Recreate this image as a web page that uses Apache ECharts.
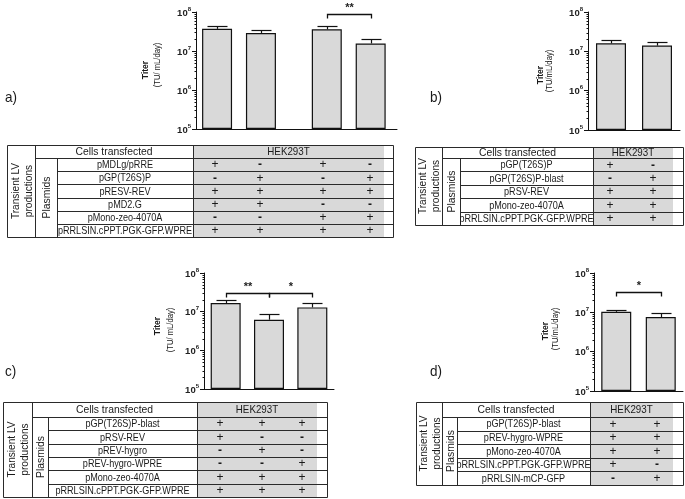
<!DOCTYPE html>
<html><head><meta charset="utf-8">
<script src="https://cdn.jsdelivr.net/npm/echarts@6/dist/echarts.min.js"></script>
<style>html,body{margin:0;padding:0;background:#fff}#c{width:685px;height:499px}</style>
</head><body><div id="c"></div>
<script>
// ---------- DATA ----------
// Panel a
const aCols = ['1', '2', '3', '4'];
const aGroups = [0, 0, 1, 1];            // two pairs of conditions
const aValues = [3.7e7, 2.9e7, 3.6e7, 1.56e7];
const aErr = [0.7e7, 0.5e7, 0.8e7, 0.42e7];
const aSig = [[2, 3, '**', 9e7]];
const aPlasmids = ['pMDLg/pRRE', 'pGP(T26S)P', 'pRESV-REV', 'pMD2.G', 'pMono-zeo-4070A', 'pRRLSIN.cPPT.PGK-GFP.WPRE'];
const aMarks = [['+','-','+','-'], ['-','+','-','+'], ['+','+','+','+'], ['+','+','-','-'], ['-','-','+','+'], ['+','+','+','+']];
// Panel b
const bCols = ['1', '2'];
const bValues = [1.6e7, 1.4e7];
const bErr = [0.3e7, 0.28e7];
const bSig = [];
const bPlasmids = ['pGP(T26S)P', 'pGP(T26S)P-blast', 'pRSV-REV', 'pMono-zeo-4070A', 'pRRLSIN.cPPT.PGK-GFP.WPRE'];
const bMarks = [['+','-'], ['-','+'], ['+','+'], ['+','+'], ['+','+']];
// Panel c
const cCols = ['1', '2', '3'];
const cValues = [1.67e7, 6.2e6, 1.29e7];
const cErr = [0.28e7, 2.5e6, 0.38e7];
const cSig = [[0, 1, '**', 3.1e7], [1, 2, '*', 3.1e7]];
const cPlasmids = ['pGP(T26S)P-blast', 'pRSV-REV', 'pREV-hygro', 'pREV-hygro-WPRE', 'pMono-zeo-4070A', 'pRRLSIN.cPPT.PGK-GFP.WPRE'];
const cMarks = [['+','+','+'], ['+','-','-'], ['-','+','-'], ['-','-','+'], ['+','+','+'], ['+','+','+']];
// Panel d
const dCols = ['1', '2'];
const dValues = [1.03e7, 7.6e6];
const dErr = [0.13e7, 1.8e6];
const dSig = [[0, 1, '*', 3.3e7]];
const dPlasmids = ['pGP(T26S)P-blast', 'pREV-hygro-WPRE', 'pMono-zeo-4070A', 'pRRLSIN.cPPT.PGK-GFP.WPRE', 'pRRLSIN-mCP-GFP'];
const dMarks = [['+','+'], ['+','+'], ['+','+'], ['+','-'], ['-','+']];

// ---------- STYLE / LAYOUT ----------
const FONT = '"Liberation Sans", Arial, sans-serif';
const INK = '#111';
const GRAY = '#d9d9d9';

const chart = echarts.init(document.getElementById('c'), null, {renderer: 'canvas'});

const grids = [
  {left: 196, top: 12, width: 201, height: 117},
  {left: 588, top: 12, width: 92, height: 118},
  {left: 204, top: 273, width: 130, height: 116},
  {left: 594, top: 273, width: 89, height: 118}
];

function yAxis(gi) {
  return {
    type: 'log', logBase: 10, gridIndex: gi, min: 1e5, max: 1e8, startValue: 1e5,
    axisLine: {show: true, onZero: false, lineStyle: {color: INK, width: 1}},
    axisTick: {show: true, length: 4, lineStyle: {color: INK, width: 1}},
    splitLine: {show: false},
    axisLabel: {
      margin: 5,
      formatter: v => '{b|10}{s|' + Math.round(Math.log10(v)) + '}',
      rich: {
        b: {fontSize: 9.5, fontWeight: 'bold', fontFamily: FONT, color: '#222', lineHeight: 12, verticalAlign: 'bottom'},
        s: {fontSize: 6, fontWeight: 'bold', fontFamily: FONT, color: '#222', lineHeight: 6, verticalAlign: 'top'}
      }
    }
  };
}
function xCat(gi, cols) {
  return {type: 'category', gridIndex: gi, data: cols,
    axisLine: {show: true, onZero: false, lineStyle: {color: INK, width: 1}},
    axisTick: {show: false}, axisLabel: {show: false}, splitLine: {show: false}};
}
const aPos = aCols.map((c, i) => i + 0.5 * aGroups[i]);

const xAxes = [
  {type: 'value', gridIndex: 0, min: -0.48, max: 4.1,
    axisLine: {show: true, onZero: false, lineStyle: {color: INK, width: 1}},
    axisTick: {show: false}, axisLabel: {show: false}, splitLine: {show: false}},
  xCat(1, bCols), xCat(2, cCols), xCat(3, dCols)
];
const yAxes = [yAxis(0), yAxis(1), yAxis(2), yAxis(3)];

function barSeries(gi, data) {
  return {type: 'bar', xAxisIndex: gi, yAxisIndex: gi, barWidth: 30, clip: true, z: 2,
    itemStyle: {color: GRAY, borderColor: INK, borderWidth: 1.2}, data: data, silent: true};
}
function errSeries(gi, xs, vals, errs) {
  return {type: 'custom', xAxisIndex: gi, yAxisIndex: gi, z: 3, silent: true,
    data: vals.map((v, i) => [xs[i], v, errs[i]]),
    renderItem: (params, api) => {
      const x = api.value(0), v = api.value(1), e = api.value(2);
      const p0 = api.coord([x, v]), p1 = api.coord([x, v + e]);
      const cx = Math.round(p0[0]) + 0.5, y1 = Math.round(p1[1]) + 0.5;
      return {type: 'group', children: [
        {type: 'line', shape: {x1: cx, y1: p0[1], x2: cx, y2: y1}, style: {stroke: INK, lineWidth: 1.2}},
        {type: 'line', shape: {x1: cx - 10, y1: y1, x2: cx + 10, y2: y1}, style: {stroke: INK, lineWidth: 1.2}}
      ]};
    }};
}
function sigSeries(gi, xs, sig) {
  return {type: 'custom', xAxisIndex: gi, yAxisIndex: gi, z: 3, silent: true, clip: false,
    data: sig.map(s => [xs[s[0]], xs[s[1]], s[3]]),
    renderItem: (params, api) => {
      const p0 = api.coord([api.value(0), api.value(2)]);
      const p1 = api.coord([api.value(1), api.value(2)]);
      const y = Math.round(p0[1]) + 0.5;
      const xa = Math.round(p0[0]) + 0.5, xb = Math.round(p1[0]) + 0.5;
      return {type: 'group', children: [
        {type: 'polyline', shape: {points: [[xa, y + 4], [xa, y], [xb, y], [xb, y + 4]]}, style: {stroke: INK, lineWidth: 1.3, fill: null}},
        {type: 'text', x: (xa + xb) / 2, y: y - 7, style: {text: sig[params.dataIndex][2], fontSize: 11, fontWeight: 'bold', fontFamily: FONT, fill: '#222', align: 'center', verticalAlign: 'middle'}}
      ]};
    }};
}
// log-scale minor ticks on the y axis
const minorTickValues = [];
for (let k = 5; k < 8; k++) for (let m = 2; m <= 9; m++) minorTickValues.push(m * Math.pow(10, k));
function minorSeries(gi, x0) {
  return {type: 'custom', xAxisIndex: gi, yAxisIndex: gi, z: 4, silent: true, clip: false,
    data: minorTickValues.map(v => [x0, v]),
    renderItem: (params, api) => {
      const p = api.coord([api.value(0), api.value(1)]);
      const ax = params.coordSys.x + 0.5;
      const y = Math.round(p[1]) + 0.5;
      return {type: 'line', shape: {x1: ax - 2, y1: y, x2: ax, y2: y}, style: {stroke: INK, lineWidth: 1}};
    }};
}

const bIdx = bCols.map((c, i) => i), cIdx = cCols.map((c, i) => i), dIdx = dCols.map((c, i) => i);

const series = [
  barSeries(0, aValues.map((v, i) => [aPos[i], v])), errSeries(0, aPos, aValues, aErr), sigSeries(0, aPos, aSig), minorSeries(0, 0),
  barSeries(1, bValues), errSeries(1, bIdx, bValues, bErr), minorSeries(1, 0),
  barSeries(2, cValues), errSeries(2, cIdx, cValues, cErr), sigSeries(2, cIdx, cSig), minorSeries(2, 0),
  barSeries(3, dValues), errSeries(3, dIdx, dValues, dErr), sigSeries(3, dIdx, dSig), minorSeries(3, 0)
];

// ---------- graphic helpers ----------
function txt(x, y, s, o) {
  o = o || {};
  return {type: 'text', x: x, y: y, rotation: o.rot || 0, scaleX: o.sx == null ? 0.79 : o.sx, z: 10, silent: true,
    style: {text: s, fontSize: o.fs || 11.5, fontWeight: o.fw || 'normal', fontFamily: FONT, fill: o.c || '#1a1a1a',
      align: o.align || 'center', verticalAlign: 'middle', lineHeight: o.lh || (o.fs || 11.5) + 2}};
}
function ln(x1, y1, x2, y2) {
  return {type: 'line', silent: true, z: 9, shape: {x1: x1, y1: y1, x2: x2, y2: y2}, style: {stroke: '#2a2a2a', lineWidth: 1}};
}
function table(t, names, marks) {
  const out = [];
  const n = names.length;
  const rowH = (t.y2 - t.yh) / n;
  const h = v => Math.round(v) + 0.5;
  out.push({type: 'rect', silent: true, z: 8, shape: {x: t.x3, y: t.y0, width: t.gx - t.x3, height: t.y2 - t.y0}, style: {fill: GRAY}});
  out.push(ln(h(t.x0), h(t.y0), h(t.x4), h(t.y0)));
  out.push(ln(h(t.x0), h(t.y2), h(t.x4), h(t.y2)));
  out.push(ln(h(t.x0), h(t.y0), h(t.x0), h(t.y2)));
  out.push(ln(h(t.x4), h(t.y0), h(t.x4), h(t.y2)));
  out.push(ln(h(t.x1), h(t.y0), h(t.x1), h(t.y2)));
  out.push(ln(h(t.x3), h(t.y0), h(t.x3), h(t.y2)));
  out.push(ln(h(t.x2), h(t.yh), h(t.x2), h(t.y2)));
  out.push(ln(h(t.x1), h(t.yh), h(t.x4), h(t.yh)));
  for (let r = 1; r < n; r++) out.push(ln(h(t.x2), h(t.yh + r * rowH), h(t.x4), h(t.yh + r * rowH)));
  out.push(txt((t.x1 + t.x3) / 2, (t.y0 + t.yh) / 2 + 0.5, 'Cells transfected', {sx: 0.9}));
  out.push(txt((t.x3 + t.gx) / 2, (t.y0 + t.yh) / 2 + 0.5, 'HEK293T', {sx: 0.85}));
  out.push(txt((t.x0 + t.x1) / 2 + 1, (t.y0 + t.y2) / 2, 'Transient LV\nproductions', {rot: Math.PI / 2, lh: 13, sx: 0.88}));
  out.push(txt((t.x1 + t.x2) / 2 + 1, (t.yh + t.y2) / 2, 'Plasmids', {rot: Math.PI / 2, sx: 0.9}));
  names.forEach((nm, r) => {
    const cy = t.yh + (r + 0.5) * rowH + 0.5;
    out.push(txt((t.x2 + t.x3) / 2, cy, nm));
    marks[r].forEach((m, c) => out.push(txt(t.cols[c], cy, m, {fs: 12, sx: 1, fw: m === '-' ? 'bold' : 'normal'})));
  });
  return out;
}
const graphics = [].concat(
  table({x0: 7, x1: 35, x2: 57, x3: 193, x4: 393, gx: 384, y0: 145, yh: 158, y2: 237, cols: [215, 260, 323, 370]}, aPlasmids, aMarks),
  table({x0: 415, x1: 442, x2: 460, x3: 593, x4: 683, gx: 673, y0: 147, yh: 158, y2: 225, cols: [610, 653]}, bPlasmids, bMarks),
  table({x0: 3, x1: 32, x2: 48, x3: 197, x4: 327, gx: 317, y0: 402, yh: 417, y2: 497, cols: [220, 262, 302]}, cPlasmids, cMarks),
  table({x0: 416, x1: 442, x2: 457, x3: 590, x4: 683, gx: 673, y0: 402, yh: 417, y2: 485, cols: [613, 657]}, dPlasmids, dMarks),
  [
    txt(5, 98, 'a)', {fs: 15, align: 'left', sx: 0.9}),
    txt(430, 98, 'b)', {fs: 15, align: 'left', sx: 0.9}),
    txt(5, 372, 'c)', {fs: 15, align: 'left', sx: 0.9}),
    txt(430, 372, 'd)', {fs: 15, align: 'left', sx: 0.9}),
    txt(145, 70, 'Titer', {rot: Math.PI / 2, fs: 9.5, fw: 'bold', sx: 0.9}),
    txt(158, 65, '(TU/ mL/day)', {rot: Math.PI / 2, fs: 8.5, sx: 0.9}),
    txt(540, 75, 'Titer', {rot: Math.PI / 2, fs: 9.5, fw: 'bold', sx: 0.9}),
    txt(550, 71, '(TU/mL/day)', {rot: Math.PI / 2, fs: 8.5, sx: 0.9}),
    txt(157, 326, 'Titer', {rot: Math.PI / 2, fs: 9.5, fw: 'bold', sx: 0.9}),
    txt(171, 330, '(TU/ mL/day)', {rot: Math.PI / 2, fs: 8.5, sx: 0.9}),
    txt(545, 331, 'Titer', {rot: Math.PI / 2, fs: 9.5, fw: 'bold', sx: 0.9}),
    txt(556, 329, '(TU/mL/day)', {rot: Math.PI / 2, fs: 8.5, sx: 0.9})
  ]
);

chart.setOption({
  animation: false,
  backgroundColor: '#fff',
  grid: grids,
  xAxis: xAxes,
  yAxis: yAxes,
  series: series,
  graphic: {elements: graphics}
});
</script></body></html>
